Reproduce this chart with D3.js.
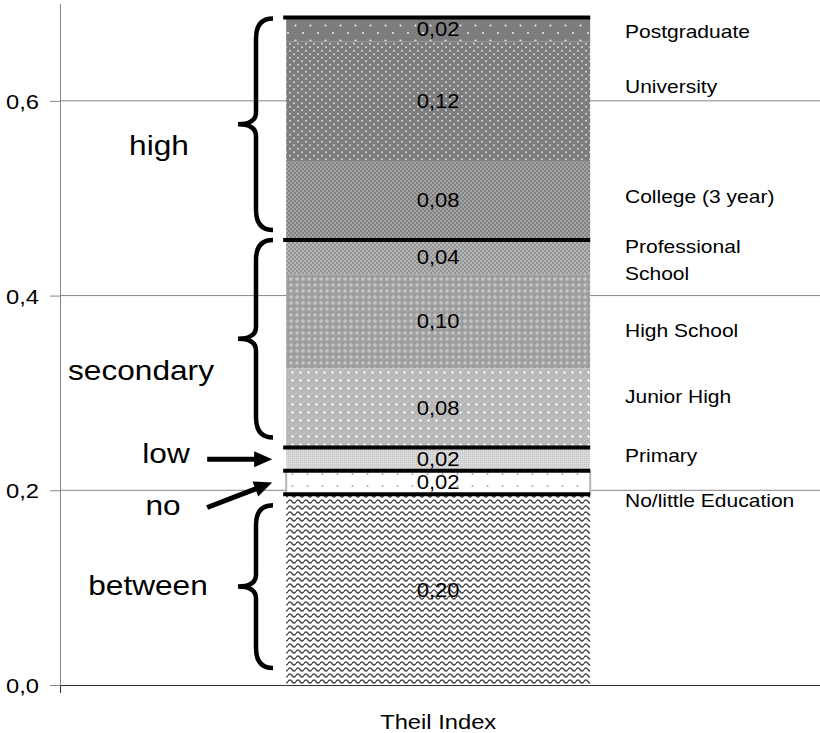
<!DOCTYPE html>
<html>
<head>
<meta charset="utf-8">
<script src="https://cdn.jsdelivr.net/npm/d3@7"></script>
<style>
  body { margin: 0; background: #fff; }
  svg { display: block; }
  text { font-family: "Liberation Sans", Arial, sans-serif; fill: #000; }
</style>
</head>
<body>
<script>
// Theil index decomposition, stacked bottom to top
var categories = ["Between", "No/little Education", "Primary", "Junior High", "High School",
                  "Professional School", "College (3 year)", "University", "Postgraduate"];
var values = [0.196, 0.024, 0.024, 0.081, 0.097, 0.0352, 0.081, 0.123, 0.0245];
var yTicks = [0, 0.2, 0.4, 0.6];
var xLabel = "Theil Index";

// education levels bracketed on the left (index range into categories)
var groupNames = ["between", "no", "low", "secondary", "high"];
var groupFirst = [0, 1, 2, 3, 6];
var groupLast  = [0, 1, 2, 5, 8];

// ---- layout / style (kept apart from the data) ----
var width = 820, height = 733;
var SX = 1.13; // the original text is a bit wide
var fmt = function(d){ return d3.format(".2f")(d).replace(".", ","); };
var fmtTick = function(d){ return d3.format(".1f")(d).replace(".", ","); };

// fill pattern for each category
var patterns = [
  {w: 8, h: 6, bg: "#ffffff", kind: "wave"},
  {w: 15, h: 12, bg: "#ffffff", kind: "dots", dots: [[7.5, 6]], r: 1, fg: "#b0b0b0", stroke: "#b4b4b4"},
  {w: 2, h: 2, bg: "#dadada", kind: "check", fg: "#c2c2c2"},
  {w: 8, h: 8, bg: "#b8b8b8", kind: "plus", fg: "#f4f4f4"},
  {w: 6, h: 6, bg: "#9f9f9f", kind: "cross", fg: "#d2d2d2"},
  {w: 4, h: 4, bg: "#959595", kind: "dots", dots: [[1, 1], [3, 3]], r: 0.8, fg: "#dcdcdc"},
  {w: 4, h: 4, bg: "#848484", kind: "dots", dots: [[1, 1], [3, 3]], r: 0.8, fg: "#c9c9c9"},
  {w: 8, h: 7, bg: "#7d7d7d", kind: "dots", dots: [[2, 1.75], [6, 5.25]], r: 0.95, fg: "#dedede"},
  {w: 15, h: 15, bg: "#7d7d7d", kind: "dots", dots: [[3, 3], [10.5, 10.5]], r: 1.1, fg: "#e6e6e6"}
];
// right-hand label baseline, relative to the segment middle (px)
var labelNudge = [null, 24.5, 3, -5, 15.6, -4, 2.5, -8, 8.6];
var wrapped = {"Professional School": ["Professional", "School"]};
// braces: inset from group ends [top, bottom]; label [x centre, baseline below brace tip]
var braceInset = {between: [11, 17], secondary: [0, 10], high: [1, 10]};
var groupLabel = {between: [148, 8.5], secondary: [141, 41], high: [159, 31], low: [166, 4], no: [163, 32.5]};
var arrowTail = {low: [-65, 0], no: [-65, 25]};

var svg = d3.select("body").append("svg")
    .attr("width", width)
    .attr("height", height);

var y = d3.scaleLinear().domain([0, 0.7]).range([685, 3.5]);
var x = d3.scaleBand().domain([xLabel]).range([60, 820])
    .paddingInner(0.6).paddingOuter(0.3).align(0.496);

function place(sel, px, py){
  return sel.attr("transform", "translate(" + px + "," + py + ") scale(" + SX + ",1)");
}

// patterns
var defs = svg.append("defs");
patterns.forEach(function(p, i){
  var pt = defs.append("pattern")
      .attr("id", "pat" + i)
      .attr("patternUnits", "userSpaceOnUse")
      .attr("width", p.w).attr("height", p.h);
  pt.append("rect").attr("width", p.w).attr("height", p.h).attr("fill", p.bg);
  if (p.kind == "dots") {
    p.dots.forEach(function(d){
      pt.append("circle").attr("cx", d[0]).attr("cy", d[1]).attr("r", p.r).attr("fill", p.fg);
    });
  } else if (p.kind == "check") {
    pt.append("rect").attr("width", 1).attr("height", 1).attr("fill", p.fg);
  } else if (p.kind == "cross") {
    pt.append("rect").attr("x", 1).attr("y", 2.5).attr("width", 4).attr("height", 1).attr("fill", p.fg);
    pt.append("rect").attr("x", 2.5).attr("y", 1).attr("width", 1).attr("height", 4).attr("fill", p.fg);
    pt.append("rect").attr("x", 0).attr("y", 0).attr("width", 1).attr("height", 1).attr("fill", "#8c8c8c");
  } else if (p.kind == "plus") {
    pt.append("rect").attr("x", 0).attr("y", 0).attr("width", 1).attr("height", 1).attr("fill", "#cdcdcd");
    pt.append("rect").attr("x", 2).attr("y", 2).attr("width", 1).attr("height", 1).attr("fill", "#cdcdcd");
    pt.append("rect").attr("x", 6).attr("y", 2).attr("width", 1).attr("height", 1).attr("fill", "#cdcdcd");
    pt.append("rect").attr("x", 2).attr("y", 6).attr("width", 1).attr("height", 1).attr("fill", "#cdcdcd");
    pt.append("rect").attr("x", 3).attr("y", 4).attr("width", 3).attr("height", 1).attr("fill", p.fg);
    pt.append("rect").attr("x", 4).attr("y", 3).attr("width", 1).attr("height", 3).attr("fill", p.fg);
  } else if (p.kind == "wave") {
    pt.append("path")
      .attr("d", "M0,3.5 Q2,0.5 4,3.5 T8,3.5")
      .attr("fill", "none").attr("stroke", "#4a4a4a").attr("stroke-width", 1.5);
  }
});

// gridlines
svg.append("g").selectAll("line")
  .data(yTicks.filter(function(d){ return d > 0; }))
  .enter().append("line")
  .attr("x1", 60).attr("x2", 820)
  .attr("y1", function(d){ return y(d); }).attr("y2", function(d){ return y(d); })
  .attr("stroke", "#868686").attr("stroke-width", 1);

// y axis
var yAxis = svg.append("g")
    .attr("transform", "translate(60,0)")
    .call(d3.axisLeft(y).tickValues(yTicks).tickSize(10).tickSizeOuter(0).tickFormat(fmtTick));
yAxis.select(".domain").attr("stroke", "#868686");
yAxis.selectAll(".tick line").attr("stroke", "#868686");
yAxis.selectAll(".tick text")
    .attr("x", null).attr("dy", null)
    .style("font-size", "21px")
    .attr("text-anchor", "end")
    .each(function(){ place(d3.select(this), -21, 7.5); });

// x axis
var xAxis = svg.append("g")
    .attr("transform", "translate(0,685)")
    .call(d3.axisBottom(x).tickSize(0).tickSizeOuter(8));
xAxis.select(".domain").attr("stroke", "#333").attr("stroke-width", 1);
xAxis.selectAll(".tick text")
    .attr("y", null).attr("dy", null)
    .style("font-size", "21px")
    .attr("text-anchor", "middle")
    .each(function(){ place(d3.select(this), 0, 44); });

// stacked bar
var row = {key: xLabel};
categories.forEach(function(c, i){ row[c] = values[i]; });
var series = d3.stack().keys(categories)([row]);

var x0 = x(xLabel), x1 = x(xLabel) + x.bandwidth();

svg.append("g").selectAll("rect")
  .data(series)
  .enter().append("rect")
  .attr("x", x0)
  .attr("width", x.bandwidth())
  .attr("y", function(s){ return y(s[0][1]); })
  .attr("height", function(s){ return y(s[0][0]) - y(s[0][1]); })
  .attr("fill", function(s, i){ return "url(#pat" + i + ")"; })
  .attr("stroke", function(s, i){ return patterns[i].stroke || "none"; })
  .attr("stroke-width", 2);

// heavy black lines at the top of each education level
svg.append("g").selectAll("line")
  .data(groupLast)
  .enter().append("line")
  .attr("x1", x0 - 3).attr("x2", x1)
  .attr("y1", function(k){ return y(series[k][0][1]); })
  .attr("y2", function(k){ return y(series[k][0][1]); })
  .attr("stroke", "#000").attr("stroke-width", 4);

function mid(s){ return (y(s[0][0]) + y(s[0][1])) / 2; }

// value labels
svg.append("g").selectAll("text")
  .data(series)
  .enter().append("text")
  .attr("text-anchor", "middle")
  .style("font-size", "19.5px")
  .text(function(s, i){ return fmt(values[i]); })
  .each(function(s){ place(d3.select(this), (x0 + x1) / 2, mid(s) + 7); });

// category names on the right
var names = svg.append("g").selectAll("text")
  .data(series.filter(function(s, i){ return labelNudge[i] !== null; }))
  .enter().append("text")
  .style("font-size", "18.6px")
  .each(function(s){
    var i = s.index;
    var t = d3.select(this);
    place(t, 625, mid(s) + labelNudge[i]);
    var lines = wrapped[categories[i]] || [categories[i]];
    lines.forEach(function(l, j){
      t.append("tspan").attr("x", 0).attr("dy", j ? 27 : 0).text(l);
    });
  });

// braces and arrows on the left
function bracePath(y0, y1){
  var ym = (y0 + y1) / 2, xv = 256, xt = 238, xe = 273;
  return "M" + xe + "," + y0 + " Q" + xv + "," + y0 + " " + xv + "," + (y0 + 20) +
         " L" + xv + "," + (ym - 12) + " Q" + xv + "," + ym + " " + xt + "," + ym +
         " Q" + xv + "," + ym + " " + xv + "," + (ym + 12) +
         " L" + xv + "," + (y1 - 20) + " Q" + xv + "," + y1 + " " + xe + "," + y1;
}

var ann = svg.append("g");
groupNames.forEach(function(g, gi){
  var top = y(series[groupLast[gi]][0][1]);
  var bot = y(series[groupFirst[gi]][0][0]);
  var lab = groupLabel[g], tipY;
  if (braceInset[g]) {
    var b0 = top + braceInset[g][0], b1 = bot - braceInset[g][1];
    ann.append("path")
      .attr("d", bracePath(b0, b1))
      .attr("fill", "none").attr("stroke", "#000").attr("stroke-width", 4.5);
    tipY = (b0 + b1) / 2;
  } else {
    tipY = (top + bot) / 2;
    var tx = x0 - 14, ty = tipY;
    var sx = tx + arrowTail[g][0], sy = ty + arrowTail[g][1];
    var len = Math.hypot(tx - sx, ty - sy), ux = (tx - sx) / len, uy = (ty - sy) / len;
    var bx = tx - ux * 18, by = ty - uy * 18;
    ann.append("line")
      .attr("x1", sx).attr("y1", sy).attr("x2", bx + ux * 2).attr("y2", by + uy * 2)
      .attr("stroke", "#000").attr("stroke-width", 5);
    ann.append("path")
      .attr("d", "M" + tx + "," + ty + " L" + (bx - uy * 8) + "," + (by + ux * 8) +
                 " L" + (bx + uy * 8) + "," + (by - ux * 8) + "Z")
      .attr("fill", "#000");
  }
  place(ann.append("text").attr("text-anchor", "middle").style("font-size", "28px").text(g),
        lab[0], tipY + lab[1]);
});
</script>
</body>
</html>
